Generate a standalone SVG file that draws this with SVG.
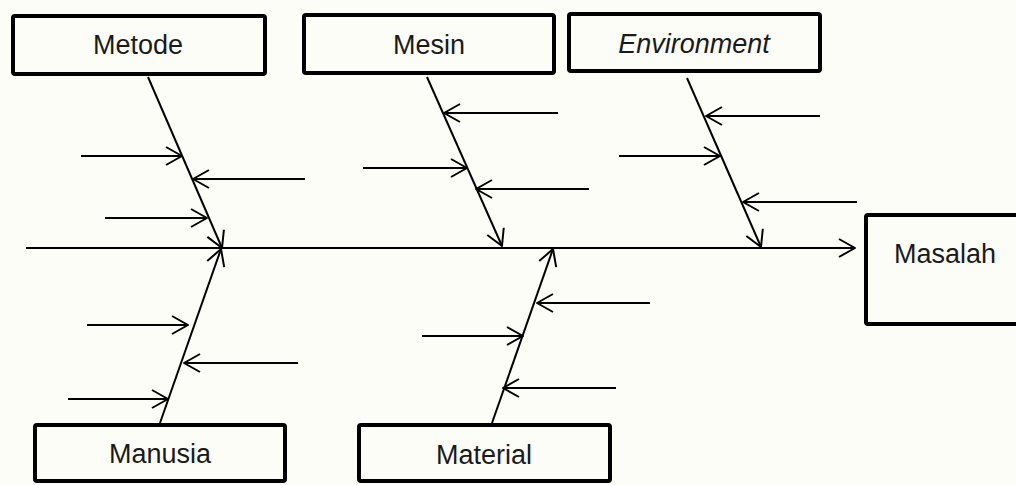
<svg xmlns="http://www.w3.org/2000/svg" width="1016" height="485" viewBox="0 0 1016 485">
<defs>
<style>
.box{fill:#fdfdf8;stroke:#000;stroke-width:4}
.lbl{font-family:"Liberation Sans",Arial,sans-serif;font-size:27px;fill:#1a1a1a;text-anchor:middle}
.it{font-style:italic}
.ln{stroke:#000;stroke-width:2;fill:none;marker-end:url(#arr)}
</style>
<marker id="arr" viewBox="-18 -11 20 22" refX="0" refY="0" markerWidth="20" markerHeight="22" markerUnits="userSpaceOnUse" orient="auto">
<path d="M-16,-9 L0,0 L-16,9" fill="none" stroke="#000" stroke-width="2" stroke-linejoin="round"/>
</marker>
</defs>
<rect width="1016" height="485" fill="#fdfdf8"/>
<g id="connectors">
<line class="ln" x1="26" y1="248" x2="855" y2="248"/>
<line class="ln" x1="148" y1="77" x2="222" y2="248"/>
<line class="ln" x1="81" y1="156" x2="182" y2="156"/>
<line class="ln" x1="305" y1="179" x2="193" y2="179"/>
<line class="ln" x1="105" y1="218" x2="207" y2="218"/>
<line class="ln" x1="427" y1="77" x2="502" y2="246"/>
<line class="ln" x1="558" y1="113" x2="444" y2="113"/>
<line class="ln" x1="363" y1="168" x2="467" y2="168"/>
<line class="ln" x1="589" y1="189" x2="476" y2="189"/>
<line class="ln" x1="687" y1="78" x2="761" y2="247"/>
<line class="ln" x1="820" y1="116" x2="706" y2="116"/>
<line class="ln" x1="619" y1="156" x2="720" y2="156"/>
<line class="ln" x1="857" y1="202" x2="743" y2="202"/>
<line class="ln" x1="160" y1="423" x2="221" y2="249"/>
<line class="ln" x1="87" y1="325" x2="188" y2="325"/>
<line class="ln" x1="298" y1="363" x2="184" y2="363"/>
<line class="ln" x1="68" y1="399" x2="168" y2="399"/>
<line class="ln" x1="492" y1="423" x2="553" y2="249"/>
<line class="ln" x1="650" y1="303" x2="537" y2="303"/>
<line class="ln" x1="422" y1="336" x2="523" y2="336"/>
<line class="ln" x1="616" y1="388" x2="503" y2="388"/>
</g>
<g id="metode"><rect class="box" x="13" y="16" width="252" height="58" rx="2"/><text class="lbl" x="138" y="54">Metode</text></g>
<g id="mesin"><rect class="box" x="304" y="15" width="250" height="58" rx="2"/><text class="lbl" x="429" y="54">Mesin</text></g>
<g id="environment"><rect class="box" x="569" y="14" width="251" height="57" rx="2"/><text class="lbl it" x="694" y="53">Environment</text></g>
<g id="masalah"><rect class="box" x="866" y="215" width="160" height="109" rx="2"/><text class="lbl" x="945" y="263">Masalah</text></g>
<g id="manusia"><rect class="box" x="35" y="425" width="250" height="56" rx="2"/><text class="lbl" x="160" y="463">Manusia</text></g>
<g id="material"><rect class="box" x="359" y="425" width="251" height="56" rx="2"/><text class="lbl" x="484" y="464">Material</text></g>
</svg>
